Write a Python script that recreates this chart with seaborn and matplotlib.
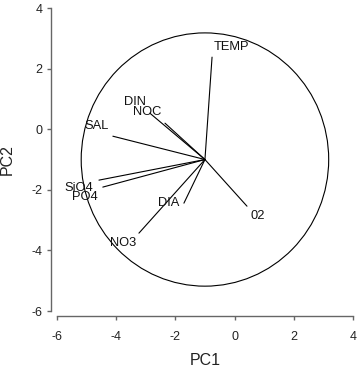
import seaborn as sns
import matplotlib.pyplot as plt
import matplotlib.patches as mpatches
import pandas as pd

# PCA loadings (vector tips) and label positions
variables = ['TEMP', 'SAL', 'DIN', 'NOC', 'SiO4', 'PO4', 'DIA', 'NO3', '02']
tip_x = [-0.76, -4.11, -2.86, -2.35, -4.58, -4.45, -1.71, -3.23, 0.42]
tip_y = [2.38, -0.23, 0.53, 0.20, -1.68, -1.91, -2.44, -3.43, -2.54]
label_x = [-0.09, -4.65, -3.36, -2.96, -5.26, -5.05, -2.22, -3.77, 0.79]
label_y = [2.70, 0.10, 0.89, 0.56, -1.95, -2.24, -2.44, -3.76, -2.87]
center = (-1.0, -1.0)
radius = 4.18

# long table: each vector = start point + tip point
rows = []
for v, x, y in zip(variables, tip_x, tip_y):
    rows.append({'var': v, 'order': 0, 'PC1': center[0], 'PC2': center[1]})
    rows.append({'var': v, 'order': 1, 'PC1': x, 'PC2': y})
df = pd.DataFrame(rows)

sns.set_style('white')
plt.rcParams['font.family'] = ['Liberation Sans', 'DejaVu Sans']
plt.rcParams['axes.unicode_minus'] = False

fig = plt.figure(figsize=(3.58, 3.68), dpi=100)
ax = fig.add_axes([51 / 358, 52 / 368, 307 / 358, 314 / 368])

sns.lineplot(data=df, x='PC1', y='PC2', units='var', estimator=None, sort=False,
             color='black', linewidth=0.8, ax=ax)

ax.add_patch(mpatches.Circle(center, radius, fill=False, edgecolor='black', linewidth=0.8))

for v, x, y in zip(variables, label_x, label_y):
    ax.text(x, y, v, ha='center', va='center', fontsize=9.3, color='#111111')

ax.set_xlim(-6.2, 4.17)
ax.set_ylim(-6.165, 4.2)
ax.set_xticks([-6, -4, -2, 0, 2, 4])
ax.set_yticks([-6, -4, -2, 0, 2, 4])

for side in ['top', 'right']:
    ax.spines[side].set_visible(False)
for side in ['left', 'bottom']:
    ax.spines[side].set_color('#666666')
    ax.spines[side].set_linewidth(1.0)
ax.spines['left'].set_bounds(-6, 4)
ax.spines['bottom'].set_bounds(-6, 4)

ax.tick_params(axis='both', direction='out', length=3, width=1.0, color='#666666',
               labelsize=9, labelcolor='#222222', bottom=True, left=True)
ax.tick_params(axis='x', pad=8)
ax.tick_params(axis='y', pad=3)

ax.set_xlabel('PC1', fontsize=11.5, color='#222222')
ax.set_ylabel('PC2', fontsize=11.5, color='#222222')
ax.xaxis.set_label_coords(0.502, -0.118)
ax.yaxis.set_label_coords(-0.117, 0.497)
ax.grid(False)

fig.savefig('out.png', dpi=100)
